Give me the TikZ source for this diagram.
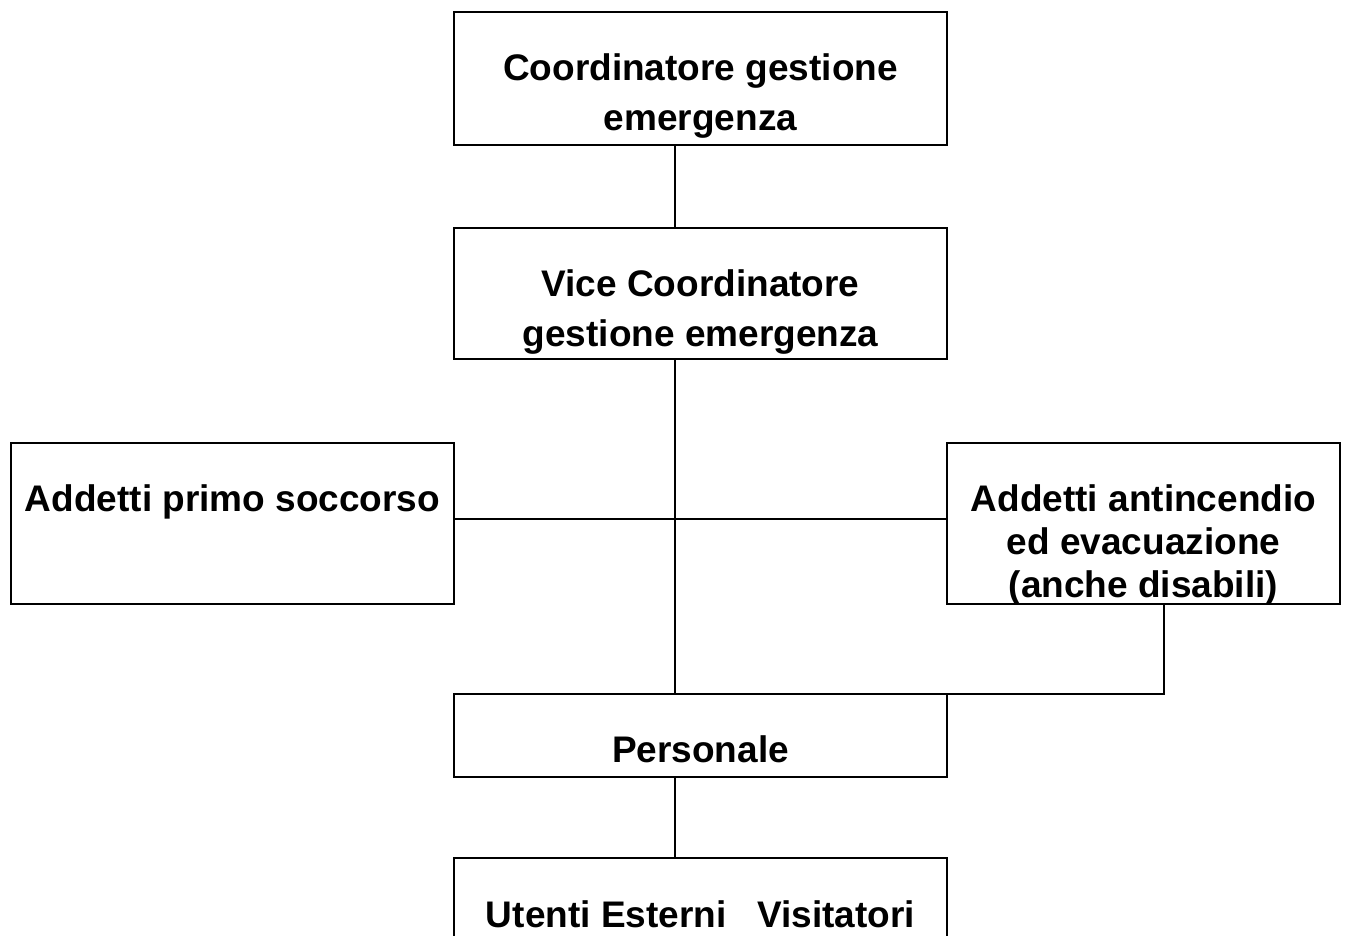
\documentclass[tikz,border=0pt]{standalone}
\usepackage{fontspec}
\setmainfont{Liberation Sans}
\begin{document}
\begin{tikzpicture}[x=1pt,y=-1pt,
  box/.style={draw=black,line width=2.4pt,outer sep=0pt,inner sep=0pt,fill=none},
  conn/.style={draw=black,line width=2.4pt},
  lbl/.style={anchor=base,inner sep=0pt,font=\fontsize{37}{43}\selectfont\bfseries}]
\useasboundingbox (0,0) rectangle (1346,936);
% boxes
\node[box,minimum width=493pt,minimum height=133pt] (c1) at (700.5,78.5) {};
\node[box,minimum width=493pt,minimum height=131pt] (c2) at (700.5,293.5) {};
\node[box,minimum width=443pt,minimum height=161pt] (lf) at (232.5,523.5) {};
\node[box,minimum width=393pt,minimum height=161pt] (rt) at (1143.5,523.5) {};
\node[box,minimum width=493pt,minimum height=83pt] (pers) at (700.5,735.5) {};
\node[box,minimum width=493pt,minimum height=142pt] (ut) at (700.5,929) {};
% labels
\node[lbl] (t1a) at (700.5,81) {Coordinatore gestione};
\node[lbl] (t1b) at (700.5,131) {emergenza};
\node[lbl] (t2a) at (700.5,296) {Vice Coordinatore};
\node[lbl] (t2b) at (700.5,346) {gestione emergenza};
\node[lbl] (tl) at (232.5,511) {Addetti primo soccorso};
\node[lbl] (tr1) at (1143.5,511) {Addetti antincendio};
\node[lbl] (tr2) at (1143.5,554) {ed evacuazione};
\node[lbl] (tr3) at (1143.5,597) {(anche disabili)};
\node[lbl] (tp) at (700.5,762) {Personale};
\node[lbl] (tu) at (700.5,927) {Utenti Esterni~~~Visitatori};
% connector helpers
\coordinate (tx) at (675,0);
\coordinate (hy) at (0,519);
\coordinate (rx) at (1164,0);
% connectors
\draw[conn] (c1.south -| tx) -- (c2.north -| tx);
\draw[conn] (c2.south -| tx) -- (pers.north -| tx);
\draw[conn] (lf.east |- hy) -- (rt.west |- hy);
\draw[conn] (rt.south -| rx) -- (rx |- pers.north) -- (pers.north east);
\draw[conn] (pers.south -| tx) -- (ut.north -| tx);
\end{tikzpicture}
\end{document}
